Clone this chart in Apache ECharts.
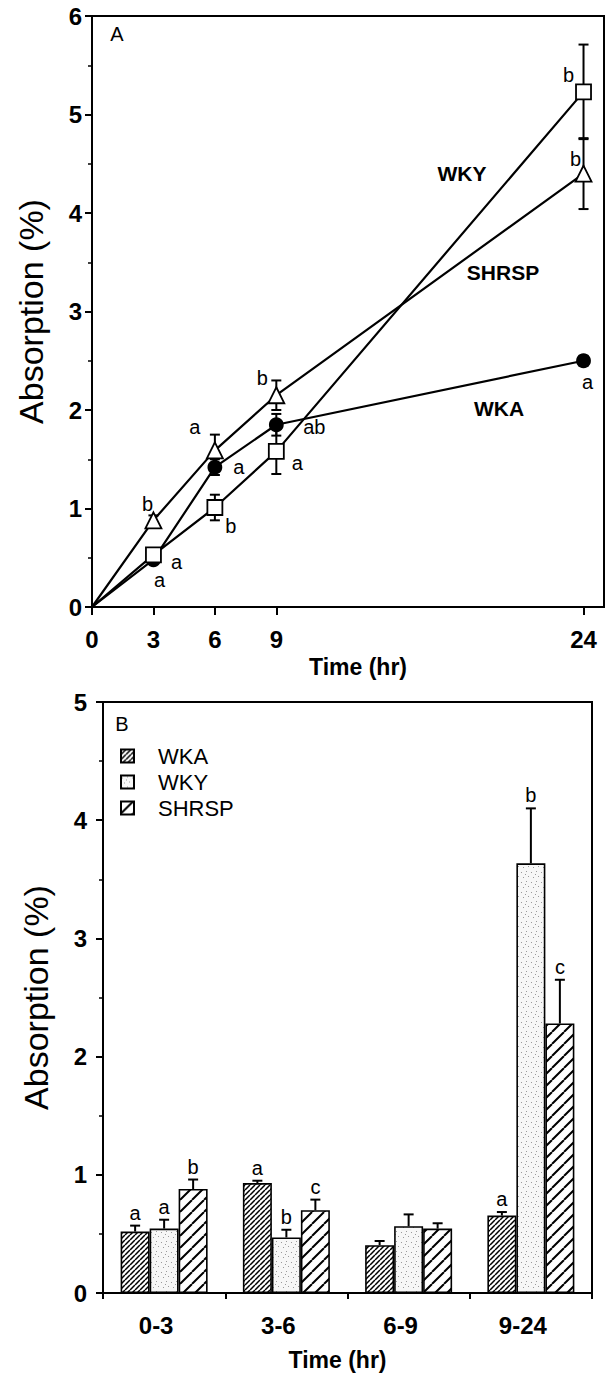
<!DOCTYPE html>
<html><head><meta charset="utf-8">
<script src="https://cdn.jsdelivr.net/npm/echarts@6/dist/echarts.min.js"></script>
<style>html,body{margin:0;padding:0;background:#fff}#c{width:607px;height:1377px}</style>
</head><body><div id="c"></div>
<script>
// ---------- Panel A (time course) ----------
const timesA = [0, 3, 6, 9, 24];
const xTicksA = [0, 3, 6, 9, 24];
const wkaA = [0, 0.48, 1.42, 1.85, 2.5];
const wkaErrA = [0, 0.03, 0.08, 0.11, 0.05];
const wkaLettersA = ['', 'a', 'a', 'ab', 'a'];
const wkyA = [0, 0.53, 1.01, 1.58, 5.23];
const wkyErrA = [0, 0.05, 0.13, 0.23, 0.48];
const wkyLettersA = ['', 'a', 'b', 'a', 'b'];
const shrspA = [0, 0.88, 1.59, 2.15, 4.4];
const shrspErrA = [0, 0.05, 0.16, 0.15, 0.36];
const shrspLettersA = ['', 'b', 'a', 'b', 'b'];

// ---------- Panel B (interval absorption) ----------
const categoriesB = ['0-3', '3-6', '6-9', '9-24'];
const wkaB = [0.52, 0.93, 0.405, 0.655];
const wkaErrB = [0.05, 0.02, 0.035, 0.03];
const wkaLettersB = ['a', 'a', '', 'a'];
const wkyB = [0.545, 0.47, 0.565, 3.635];
const wkyErrB = [0.075, 0.065, 0.10, 0.465];
const wkyLettersB = ['a', 'b', '', 'b'];
const shrspB = [0.88, 0.70, 0.545, 2.28];
const shrspErrB = [0.08, 0.09, 0.045, 0.37];
const shrspLettersB = ['b', 'c', '', 'c'];

// ---------- styling ----------
const FF = '"Liberation Sans", Arial, Helvetica, sans-serif';
const BAR_W = 29;
const letterOffsetA = {
  WKA: [[0,0],[6,20],[24,0],[38,2],[4,21]],
  WKY: [[0,0],[23,7],[16,18],[21,12],[-15,-17]],
  SHRSP: [[0,0],[-6,-16],[-20,-23],[-14,-17],[-8,-15]]
};

function hatch(size, lw) {
  const c = document.createElement('canvas'); c.width = c.height = size;
  const g = c.getContext('2d');
  g.fillStyle = '#fff'; g.fillRect(0, 0, size, size);
  g.strokeStyle = '#000'; g.lineWidth = lw;
  g.beginPath();
  for (let k = -1; k <= 1; k++) { g.moveTo(k * size, size); g.lineTo(k * size + size, 0); }
  g.stroke();
  return c;
}
function stipple() {
  const s = 10;
  const c = document.createElement('canvas'); c.width = c.height = s;
  const g = c.getContext('2d');
  g.fillStyle = '#f7f7f7'; g.fillRect(0, 0, s, s);
  g.fillStyle = '#9a9a9a';
  [[1,2],[6,1],[3,7],[8,6],[5,4]].forEach(p => g.fillRect(p[0], p[1], 1, 1));
  return c;
}
const pDense = hatch(5, 1.5), pSparse = hatch(12, 2), pDots = stipple();
const pat = (c) => ({ image: c, repeat: 'repeat', imageWidth: c.width, imageHeight: c.height });

function lineSeries(name, vals, letters, offs, symbol, size, fill) {
  return {
    type: 'line', name: name + ' (A)', xAxisIndex: 0, yAxisIndex: 0, z: 3,
    symbol: symbol, symbolSize: size, showAllSymbol: true, animation: false,
    lineStyle: { color: '#000', width: 2.2 },
    itemStyle: { color: fill, borderColor: '#000', borderWidth: 1.8 },
    emphasis: { disabled: true },
    label: { color: '#000', fontSize: 20, fontFamily: FF },
    data: timesA.map((t, i) => ({
      value: [t, vals[i]],
      symbol: i === 0 ? 'none' : symbol,
      label: letters[i] ? { show: true, formatter: letters[i], position: 'inside', offset: offs[i] } : { show: false }
    }))
  };
}
function errSeriesA(vals, errs) {
  return {
    type: 'custom', xAxisIndex: 0, yAxisIndex: 0, z: 2, animation: false, silent: true,
    data: timesA.map((t, i) => [t, vals[i], errs[i]]),
    renderItem(params, api) {
      const x = api.value(0), y = api.value(1), e = api.value(2);
      if (!e) return null;
      const t = api.coord([x, y + e]), b = api.coord([x, y - e]);
      const hw = 5, st = { stroke: '#000', lineWidth: 2 };
      return { type: 'group', children: [
        { type: 'line', shape: { x1: t[0], y1: t[1], x2: b[0], y2: b[1] }, style: st },
        { type: 'line', shape: { x1: t[0] - hw, y1: t[1], x2: t[0] + hw, y2: t[1] }, style: st },
        { type: 'line', shape: { x1: b[0] - hw, y1: b[1], x2: b[0] + hw, y2: b[1] }, style: st }
      ] };
    }
  };
}
function barSeries(name, vals, fill) {
  return {
    type: 'bar', name: name, xAxisIndex: 1, yAxisIndex: 1, z: 2, animation: false,
    barWidth: BAR_W, barGap: '0%',
    itemStyle: { color: pat(fill), borderColor: '#000', borderWidth: 1.6 },
    emphasis: { disabled: true },
    data: vals
  };
}
function errSeriesB(vals, errs, letters, slot) {
  return {
    type: 'custom', xAxisIndex: 1, yAxisIndex: 1, z: 5, animation: false, silent: true,
    data: vals.map((v, i) => [i, v, errs[i]]),
    renderItem(params, api) {
      const i = api.value(0), v = api.value(1), e = api.value(2);
      const base = api.coord([i, v]), top = api.coord([i, v + e]);
      const x = base[0] + slot * BAR_W, hw = 5, st = { stroke: '#000', lineWidth: 2 };
      const ch = [
        { type: 'line', shape: { x1: x, y1: base[1], x2: x, y2: top[1] }, style: st },
        { type: 'line', shape: { x1: x - hw, y1: top[1], x2: x + hw, y2: top[1] }, style: st }
      ];
      const L = letters[params.dataIndex];
      if (L) ch.push({ type: 'text', x: x, y: top[1] - 3, style: { text: L, fill: '#000', font: '20px ' + FF, align: 'center', verticalAlign: 'bottom' } });
      return { type: 'group', children: ch };
    }
  };
}

const tickLabel = { color: '#000', fontWeight: 'bold', fontSize: 24, fontFamily: FF };
const axisLine = { show: true, lineStyle: { color: '#000', width: 2 } };

const option = {
  backgroundColor: '#fff',
  animation: false,
  textStyle: { fontFamily: FF },
  grid: [
    { left: 92, top: 16, width: 512, height: 591, show: true, borderColor: '#000', borderWidth: 2, backgroundColor: 'transparent' },
    { left: 103, top: 702, width: 489, height: 591, show: true, borderColor: '#000', borderWidth: 2, backgroundColor: 'transparent' }
  ],
  xAxis: [
    { type: 'value', gridIndex: 0, min: 0, max: 25, axisLine: axisLine,
      axisTick: { show: true, length: 8, lineStyle: { color: '#000', width: 2 }, customValues: xTicksA },
      axisLabel: Object.assign({ margin: 20, customValues: xTicksA }, tickLabel),
      splitLine: { show: false },
      name: 'Time (hr)', nameLocation: 'middle', nameGap: 48,
      nameTextStyle: { color: '#000', fontWeight: 'bold', fontSize: 23, fontFamily: FF, padding: [0, 0, 0, 20] } },
    { type: 'category', gridIndex: 1, data: categoriesB, axisLine: axisLine,
      axisTick: { show: true, length: 6, lineStyle: { color: '#000', width: 2 } },
      axisLabel: Object.assign({ margin: 20, padding: [0, 16, 0, 0] }, tickLabel),
      name: 'Time (hr)', nameLocation: 'middle', nameGap: 55,
      nameTextStyle: { color: '#000', fontWeight: 'bold', fontSize: 23, fontFamily: FF, padding: [0, 20, 0, 0] } }
  ],
  yAxis: [
    { type: 'value', gridIndex: 0, min: 0, max: 6, interval: 1, axisLine: axisLine,
      axisTick: { show: true, length: 7, lineStyle: { color: '#000', width: 2 } },
      minorTick: { show: true, splitNumber: 2, length: 4, lineStyle: { color: '#000', width: 1.5 } },
      axisLabel: Object.assign({ margin: 10 }, tickLabel),
      splitLine: { show: false },
      name: 'Absorption (%)', nameLocation: 'middle', nameGap: 44,
      nameTextStyle: { color: '#000', fontSize: 34, fontFamily: FF } },
    { type: 'value', gridIndex: 1, min: 0, max: 5, interval: 1, axisLine: axisLine,
      axisTick: { show: true, length: 7, lineStyle: { color: '#000', width: 2 } },
      minorTick: { show: true, splitNumber: 2, length: 4, lineStyle: { color: '#000', width: 1.5 } },
      axisLabel: Object.assign({ margin: 16 }, tickLabel),
      splitLine: { show: false },
      name: 'Absorption (%)', nameLocation: 'middle', nameGap: 50,
      nameTextStyle: { color: '#000', fontSize: 34, fontFamily: FF } }
  ],
  legend: {
    data: ['WKA', 'WKY', 'SHRSP'], orient: 'vertical', left: 115, top: 740,
    icon: 'rect', itemWidth: 13, itemHeight: 13, itemGap: 4, selectedMode: false,
    formatter: (n) => '{t|' + n + '}',
    textStyle: { color: '#000', fontFamily: FF, fontSize: 22,
      rich: { t: { fontSize: 22, fontFamily: FF, color: '#000', padding: [0, 0, 0, 19] } } }
  },
  graphic: [
    { type: 'text', x: 117, y: 34, style: { text: 'A', font: '20px ' + FF, fill: '#000', align: 'center', verticalAlign: 'middle' } },
    { type: 'text', x: 122, y: 724, style: { text: 'B', font: '20px ' + FF, fill: '#000', align: 'center', verticalAlign: 'middle' } },
    { type: 'text', x: 462, y: 173, style: { text: 'WKY', font: 'bold 21px ' + FF, fill: '#000', align: 'center', verticalAlign: 'middle' } },
    { type: 'text', x: 503, y: 272, style: { text: 'SHRSP', font: 'bold 21px ' + FF, fill: '#000', align: 'center', verticalAlign: 'middle' } },
    { type: 'text', x: 499, y: 408, style: { text: 'WKA', font: 'bold 21px ' + FF, fill: '#000', align: 'center', verticalAlign: 'middle' } }
  ],
  series: [
    barSeries('WKA', wkaB, pDense),
    barSeries('WKY', wkyB, pDots),
    barSeries('SHRSP', shrspB, pSparse),
    errSeriesB(wkaB, wkaErrB, wkaLettersB, -1),
    errSeriesB(wkyB, wkyErrB, wkyLettersB, 0),
    errSeriesB(shrspB, shrspErrB, shrspLettersB, 1),
    errSeriesA(wkaA, wkaErrA),
    errSeriesA(wkyA, wkyErrA),
    errSeriesA(shrspA, shrspErrA),
    lineSeries('WKA', wkaA, wkaLettersA, letterOffsetA.WKA, 'circle', 13, '#000'),
    lineSeries('WKY', wkyA, wkyLettersA, letterOffsetA.WKY, 'rect', 15, '#fff'),
    lineSeries('SHRSP', shrspA, shrspLettersA, letterOffsetA.SHRSP, 'triangle', 16, '#fff')
  ]
};
const chart = echarts.init(document.getElementById('c'), null, { renderer: 'svg' });
chart.setOption(option);
</script></body></html>
